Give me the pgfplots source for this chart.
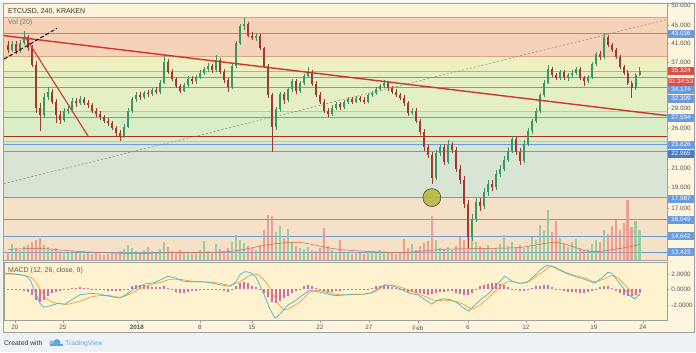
\documentclass[border=0pt]{standalone}
\usepackage{fontspec}
\setmainfont{Liberation Sans}
\usepackage{pgfplots}
\pgfplotsset{compat=1.18}
\usepackage{pgfplotstable}
\definecolor{chartbg}{HTML}{FDF5DE}
\definecolor{footerbg}{HTML}{EEF2F6}
\definecolor{bandtop}{HTML}{FDF3D8}
\definecolor{salmon}{HTML}{F6D2B8}
\definecolor{yband}{HTML}{EEF0C2}
\definecolor{ygreen}{HTML}{E5EFC4}
\definecolor{lgreen}{HTML}{D9EDC6}
\definecolor{ggreen}{HTML}{D8E4D4}
\definecolor{tanbg}{HTML}{F4E1C8}
\definecolor{blueline}{HTML}{6E9BD6}
\definecolor{bluebox}{HTML}{6A9BE0}
\definecolor{bluebox2}{HTML}{4C7BC4}
\definecolor{redbox}{HTML}{DC4F45}
\definecolor{redline}{HTML}{D0342C}
\definecolor{fibline}{HTML}{D8A57E}
\definecolor{greenline}{HTML}{A9D59E}
\definecolor{cup}{HTML}{3E9460}
\definecolor{cdown}{HTML}{9E3B2E}
\definecolor{volred}{HTML}{E8958A}
\definecolor{volgreen}{HTML}{8FC79A}
\definecolor{volma}{HTML}{D9603F}
\definecolor{macdblue}{HTML}{45B5CE}
\definecolor{signal}{HTML}{F0A03C}
\definecolor{hist}{HTML}{D46AA6}
\definecolor{macdbg}{HTML}{FFF2CF}
\definecolor{framegray}{HTML}{A0A0A0}
\definecolor{labgray}{HTML}{555555}
\definecolor{tvblue}{HTML}{5BA8DC}
\definecolor{circ}{HTML}{B5B53A}

\pgfplotstableread{
x o h l c v m
8 40.5 41.3 38.8 39.5 8 -0.1
12 39.5 41.3 39.1 40.8 16 -0.1
16 40.8 41.4 38.6 39.2 12 -0.05
20 39.2 41.6 38.9 41.0 10 -0.1
24 41.0 43.6 40.6 42.2 14 -0.15
28 42.2 42.8 39.2 39.8 15 -0.3
32 39.8 40.6 36.0 36.5 18 -0.7
36 36.5 37.2 28.2 29.0 20 -1.3
40 29.0 29.8 25.6 28.0 22 -1.6
44 28.0 31.4 27.6 30.8 15 -1.3
48 30.8 32.4 30.2 31.6 13 -0.9
52 31.6 32.0 29.6 30.0 11 -0.5
56 30.0 30.4 26.8 28.0 12 -0.3
60 28.0 28.5 26.6 27.2 9 -0.2
64 27.2 29.0 26.9 28.6 8 -0.1
68 28.6 29.4 28.1 28.9 7 0.1
72 28.9 30.6 28.6 30.1 9 0.2
76 30.1 30.5 29.2 29.7 7 0.25
80 29.7 30.9 29.4 30.4 8 0.3
84 30.4 30.7 29.4 29.8 6 0.25
88 29.8 30.2 29.0 29.4 7 0.2
92 29.4 29.7 28.2 28.6 6 0.1
96 28.6 29.0 27.7 28.1 8 0.05
100 28.1 28.5 27.2 27.6 6 -0.05
104 27.6 28.0 26.8 27.1 5 -0.1
108 27.1 27.5 26.3 26.7 6 -0.15
112 26.7 27.0 25.8 26.1 7 -0.2
116 26.1 26.4 25.0 25.4 8 -0.2
120 25.4 25.8 24.3 25.0 9 -0.2
124 25.0 26.6 24.7 26.2 11 -0.1
128 26.2 29.0 26.0 28.6 15 0.1
132 28.6 30.8 28.3 30.4 12 0.4
136 30.4 31.5 30.0 31.1 9 0.55
140 31.1 31.6 30.3 30.7 8 0.6
144 30.7 31.8 30.4 31.4 10 0.55
148 31.4 31.9 30.8 31.2 13 0.45
152 31.2 32.3 30.9 31.9 9 0.35
156 31.9 32.4 31.2 31.6 7 0.3
160 31.6 33.6 31.3 33.2 11 0.35
164 33.2 38.4 33.0 37.0 18 0.45
168 37.0 37.6 34.8 35.2 13 0.2
172 35.2 35.7 33.4 33.8 9 -0.1
176 33.8 34.2 32.2 32.6 8 -0.35
180 32.6 33.0 31.4 31.8 10 -0.45
184 31.8 33.2 31.5 32.8 8 -0.4
188 32.8 34.3 32.5 33.9 7 -0.3
192 33.9 34.4 32.9 33.4 6 -0.25
196 33.4 34.6 33.0 34.2 8 -0.15
200 34.2 35.4 33.9 35.0 10 -0.1
204 35.0 36.0 34.6 35.6 19 -0.05
208 35.6 36.8 35.2 36.3 9 0.05
212 36.3 36.7 35.0 35.4 8 -0.05
216 35.4 38.5 35.1 37.4 16 0.05
220 37.4 37.8 34.8 35.2 11 -0.1
224 35.2 35.6 33.2 33.6 9 -0.25
228 33.6 34.0 31.5 32.4 12 -0.3
232 32.4 36.6 32.1 36.2 18 -0.05
236 36.2 41.4 35.9 41.0 25 0.4
240 41.0 45.4 40.6 44.8 20 0.8
244 44.8 46.9 44.0 45.4 17 1.0
248 45.4 45.9 42.2 42.6 14 0.8
252 42.6 43.4 41.6 42.0 12 0.5
256 42.0 43.1 41.5 42.6 10 0.35
260 42.6 43.0 39.4 39.8 15 0.1
264 39.8 40.2 35.8 36.2 30 -0.4
268 36.2 36.6 30.6 31.0 46 -1.0
272 31.0 31.4 22.9 26.2 45 -1.6
276 26.2 29.2 25.8 28.8 28 -1.8
280 28.8 31.6 28.4 31.2 35 -1.5
284 31.2 31.6 29.6 30.2 22 -1.1
288 30.2 32.5 29.9 32.1 31 -0.8
292 32.1 33.9 31.6 33.5 18 -0.4
296 33.5 33.9 31.3 31.7 14 -0.2
300 31.7 33.5 31.4 33.1 12 0.1
304 33.1 34.8 32.8 34.4 11 0.4
308 34.4 36.0 34.1 35.0 13 0.6
312 35.0 35.4 32.6 33.0 10 0.5
316 33.0 33.4 30.7 31.1 9 0.2
320 31.1 31.5 29.6 30.0 12 -0.1
324 30.0 30.4 28.2 28.6 33 -0.3
328 28.6 29.0 27.7 28.1 14 -0.4
332 28.1 29.4 27.8 29.0 10 -0.35
336 29.0 30.0 28.7 29.6 8 -0.25
340 29.6 30.0 28.7 29.1 20 -0.15
344 29.1 30.3 28.8 29.9 9 -0.05
348 29.9 30.8 29.6 30.4 7 0.05
352 30.4 30.8 29.6 30.0 6 0.05
356 30.0 30.9 29.7 30.5 8 0.1
360 30.5 30.9 29.9 30.3 7 0.1
364 30.3 30.7 29.6 30.0 6 0.05
368 30.0 31.4 29.7 31.0 9 0.1
372 31.0 31.8 30.7 31.4 8 0.25
376 31.4 32.4 31.1 32.0 7 0.4
380 32.0 33.0 31.7 32.6 10 0.5
384 32.6 33.6 32.3 33.1 9 0.55
388 33.1 33.5 31.8 32.2 8 0.45
392 32.2 32.6 31.2 31.6 7 0.3
396 31.6 32.0 30.7 31.1 6 0.15
400 31.1 31.4 30.2 30.6 8 -0.05
404 30.6 31.0 29.3 29.7 21 -0.2
408 29.7 30.1 27.8 28.2 12 -0.35
412 28.2 29.0 27.9 28.6 16 -0.35
416 28.6 29.0 26.7 27.0 10 -0.4
420 27.0 27.4 25.1 25.5 14 -0.5
424 25.5 25.9 23.1 23.5 17 -0.6
428 23.5 23.9 22.2 22.6 19 -0.7
432 22.6 23.0 19.4 20.0 45 -0.6
436 20.0 23.2 19.8 22.8 20 -0.4
440 22.8 24.0 22.4 23.6 12 -0.3
444 23.6 24.0 21.4 21.8 11 -0.3
448 21.8 24.4 21.5 23.8 13 -0.2
452 23.8 24.2 22.8 23.2 10 -0.25
456 23.2 23.6 20.6 21.0 14 -0.4
460 21.0 21.4 19.4 19.8 23 -0.55
464 19.8 20.2 17.0 17.4 20 -0.7
468 17.4 17.8 13.8 14.6 28 -0.75
472 14.6 16.5 14.3 16.1 24 -0.4
476 16.1 18.0 15.8 17.6 18 0.1
480 17.6 18.0 16.8 17.2 14 0.4
484 17.2 18.9 16.9 18.5 12 0.6
488 18.5 19.8 18.2 19.4 15 0.75
492 19.4 19.8 18.6 19.0 10 0.8
496 19.0 20.8 18.7 20.4 12 0.8
500 20.4 21.4 20.1 21.0 16 0.75
504 21.0 22.4 20.7 22.0 25 0.6
508 22.0 23.5 21.7 23.1 14 0.35
512 23.1 25.0 22.8 24.6 18 0.1
516 24.6 25.0 22.6 23.0 13 -0.1
520 23.0 23.4 21.4 21.9 15 -0.25
524 21.9 24.4 21.6 24.0 12 -0.15
528 24.0 26.0 23.7 25.6 14 0.05
532 25.6 27.4 25.3 27.0 23 0.25
536 27.0 29.0 26.7 28.6 20 0.4
540 28.6 31.4 28.3 31.0 36 0.5
544 31.0 33.6 30.7 33.2 30 0.6
548 33.2 36.4 32.9 35.6 51 0.55
552 35.6 36.0 34.2 34.6 28 0.35
556 34.6 35.0 33.6 34.0 40 0.1
560 34.0 35.5 33.7 35.1 22 -0.1
564 35.1 35.5 33.7 34.1 16 -0.2
568 34.1 35.0 33.5 34.6 13 -0.3
572 34.6 35.4 34.2 35.0 18 -0.35
576 35.0 36.0 34.6 35.6 21 -0.35
580 35.6 36.0 33.6 34.0 12 -0.4
584 34.0 34.4 32.6 33.5 10 -0.4
588 33.5 34.5 33.1 34.1 11 -0.35
592 34.1 37.0 33.8 36.6 16 -0.2
596 36.6 39.0 36.3 38.6 20 0.1
600 38.6 39.2 37.5 38.0 18 0.3
604 38.0 43.3 37.7 42.4 30 0.5
608 42.4 42.8 40.2 40.6 26 0.45
612 40.6 41.0 39.0 39.4 35 0.2
616 39.4 39.8 37.6 38.0 41 -0.2
620 38.0 38.4 35.7 36.1 30 -0.5
624 36.1 36.5 34.6 35.0 38 -0.7
628 35.0 35.4 32.7 33.1 61 -0.85
632 33.1 33.5 30.6 32.2 34 -0.9
636 32.2 35.0 31.9 34.6 40 -0.75
640 34.6 36.0 34.3 35.3 30 -0.5
}\candles

\newcommand{\hlev}[2]{\addplot[#1, mark=none, forget plot] coordinates {(4,#2) (667,#2)};}
\newcommand{\pbox}[3]{\node[fill=#3, text=white, anchor=west, inner sep=0pt, minimum height=8pt, minimum width=26pt, font=\fontsize{6.3}{7}\selectfont] at (668pt,{(351-#1)*1pt}) {#2};}

\begin{document}
\begin{tikzpicture}
\fill[footerbg] (0pt,0pt) rectangle (696pt,351pt);
\fill[chartbg] (2pt,20pt) rectangle (695pt,350pt);

% ---------- price pane: backgrounds, levels, scale
\begin{axis}[at={(4pt,92pt)}, anchor=south west, scale only axis,
  width=663pt, height=257pt, xmin=4, xmax=667,
  ymode=log, ymin=12.88, ymax=50.53,
  xtick=\empty,
  ytick={50,45,41,37,29,26,21,19,17},
  yticklabels={50.000,45.000,41.000,37.000,29.000,26.000,21.000,19.000,17.000},
  ytick pos=right, yticklabel pos=right, tick align=outside,
  major tick length=2.5pt,
  axis line style={draw=framegray}, tick style={draw=framegray},
  yticklabel style={font=\fontsize{6.3}{7}\selectfont, text=labgray, xshift=-1.5pt}]
\addplot[fill=bandtop, draw=none, forget plot] coordinates {(4,50.53) (667,50.53) (667,46.91) (4,46.91)} -- cycle;
\addplot[fill=salmon, draw=none, forget plot] coordinates {(4,46.91) (667,46.91) (667,38.12) (4,38.12)} -- cycle;
\addplot[fill=yband, draw=none, forget plot] coordinates {(4,38.12) (667,38.12) (667,35.324) (4,35.324)} -- cycle;
\addplot[fill=ygreen, draw=none, forget plot] coordinates {(4,35.324) (667,35.324) (667,28.45) (4,28.45)} -- cycle;
\addplot[fill=lgreen, draw=none, forget plot] coordinates {(4,28.45) (667,28.45) (667,24.26) (4,24.26)} -- cycle;
\addplot[fill=ggreen, draw=none, forget plot] coordinates {(4,24.26) (667,24.26) (667,17.987) (4,17.987)} -- cycle;
\addplot[fill=tanbg, draw=none, forget plot] coordinates {(4,17.987) (667,17.987) (667,12.88) (4,12.88)} -- cycle;
\hlev{fibline, line width=0.6pt}{46.91}
\hlev{fibline, line width=0.6pt}{38.12}
\hlev{fibline, line width=0.6pt}{35.324}
\hlev{greenline, line width=0.6pt}{28.45}
\hlev{greenline, line width=0.6pt}{24.26}
\hlev{redline!85!black, line width=1.1pt}{24.9}
\hlev{blueline, line width=1.1pt}{43.036}
\hlev{blueline, line width=1.1pt}{34.174}
\hlev{blueline, line width=1.1pt}{32.309}
\hlev{blueline, line width=1.1pt}{27.594}
\hlev{blueline, line width=1.1pt}{23.826}
\hlev{blueline, line width=1.1pt}{22.965}
\hlev{blueline, line width=1.1pt}{17.987}
\hlev{blueline, line width=1.1pt}{16.049}
\hlev{blueline, line width=1.1pt}{14.642}
\hlev{blueline, line width=1.1pt}{13.423}
\end{axis}

% ---------- volume overlay
\begin{axis}[at={(4pt,92pt)}, anchor=south west, scale only axis,
  width=663pt, height=257pt, xmin=4, xmax=667, ymin=0, ymax=257, hide axis]
\addplot[ycomb, draw=volgreen, draw opacity=0.85, line width=2.6pt, mark=none,
  restrict expr to domain={\thisrow{c}-\thisrow{o}}{0:1000}]
  table[x=x, y=v] {\candles};
\addplot[ycomb, draw=volred, draw opacity=0.85, line width=2.6pt, mark=none,
  restrict expr to domain={\thisrow{o}-\thisrow{c}}{0.001:1000}]
  table[x=x, y=v] {\candles};
\addplot[volma, line width=0.5pt, smooth, mark=none] coordinates {
(8,11) (40,12) (80,9) (130,7) (180,8) (230,9) (270,16) (300,18) (340,11)
(400,8) (440,11) (480,12) (520,13) (557,18) (590,9) (620,12) (640,16)};
\end{axis}

% ---------- candles and drawings
\begin{axis}[at={(4pt,92pt)}, anchor=south west, scale only axis,
  width=663pt, height=257pt, xmin=4, xmax=667,
  ymode=log, ymin=12.88, ymax=50.53, hide axis]
\addplot[draw=none, mark=none,
  restrict expr to domain={\thisrow{c}-\thisrow{o}}{0:1000},
  error bars/.cd, y dir=plus, y explicit, error mark=none,
  error bar style={draw=cup, line width=0.6pt}]
  table[x=x, y=l, y error plus expr=\thisrow{h}-\thisrow{l}] {\candles};
\addplot[draw=none, mark=none,
  restrict expr to domain={\thisrow{c}-\thisrow{o}}{0:1000},
  error bars/.cd, y dir=plus, y explicit, error mark=none,
  error bar style={draw=cup, line width=2.4pt}]
  table[x=x, y=o, y error plus expr=\thisrow{c}-\thisrow{o}] {\candles};
\addplot[draw=none, mark=none,
  restrict expr to domain={\thisrow{o}-\thisrow{c}}{0.001:1000},
  error bars/.cd, y dir=plus, y explicit, error mark=none,
  error bar style={draw=cdown, line width=0.6pt}]
  table[x=x, y=l, y error plus expr=\thisrow{h}-\thisrow{l}] {\candles};
\addplot[draw=none, mark=none,
  restrict expr to domain={\thisrow{o}-\thisrow{c}}{0.001:1000},
  error bars/.cd, y dir=plus, y explicit, error mark=none,
  error bar style={draw=cdown, line width=2.4pt}]
  table[x=x, y=c, y error plus expr=\thisrow{o}-\thisrow{c}] {\candles};
\addplot[redline, line width=1.4pt, mark=none] coordinates {(4,42.6) (667,27.85)};
\addplot[redline, line width=1.1pt, mark=none] coordinates {(25,42.4) (88,25.0)};
\addplot[black, line width=0.9pt, dash pattern=on 4pt off 2pt, mark=none] coordinates {(4,37.6) (57,44.3)};
\addplot[gray, line width=0.5pt, dash pattern=on 2pt off 2pt, mark=none] coordinates {(4,19.4) (667,46.4)};
\addplot[only marks, mark=*, mark size=9pt, mark options={fill=circ, draw=none, opacity=0.85}] coordinates {(432,18.0)};
\end{axis}

% ---------- MACD pane
\begin{axis}[at={(4pt,32pt)}, anchor=south west, scale only axis,
  width=663pt, height=58pt, xmin=4, xmax=667, ymin=-4, ymax=3.48,
  axis background/.style={fill=macdbg},
  ytick={-2,0,2}, yticklabels={-2.0000,0.0000,2.0000},
  ytick pos=right, yticklabel pos=right,
  xtick={15,63,137,200,252,320,369,418,468,526,594,643},
  xticklabels={20,25,\textbf{2018},8,15,22,27,Feb,6,12,19,24},
  xtick pos=bottom, tick align=outside, major tick length=2.5pt,
  axis line style={draw=framegray}, tick style={draw=framegray},
  yticklabel style={font=\fontsize{6.3}{7}\selectfont, text=labgray, xshift=-1.5pt},
  xticklabel style={font=\fontsize{6.3}{7}\selectfont, text=labgray, yshift=1pt}]
\addplot[ycomb, draw=hist, line width=2.2pt, mark=none] table[x=x, y=m] {\candles};
\addplot[signal, line width=0.7pt, smooth, mark=none] coordinates {
(5,2.0) (15,1.95) (25,1.8) (32,1.5) (38,0.5) (44,-0.8) (50,-1.5) (58,-1.8) (68,-1.9)
(80,-1.5) (90,-1.0) (100,-0.8) (110,-0.8) (120,-1.0) (130,-0.6) (140,0.1) (150,0.6)
(160,0.9) (170,1.3) (180,1.3) (190,1.1) (200,1.0) (210,0.95) (220,0.8) (230,0.55)
(240,1.0) (248,1.7) (255,2.0) (260,1.7) (268,0.6) (276,-1.3) (283,-2.6) (290,-2.4)
(300,-1.6) (310,-0.4) (318,-0.1) (325,-0.3) (335,-0.6) (345,-0.7) (355,-0.65)
(365,-0.6) (375,-0.3) (385,0.5) (395,0.5) (405,0.1) (415,-0.4) (425,-0.9) (435,-1.4)
(445,-1.4) (455,-1.5) (465,-2.0) (472,-2.5) (480,-2.0) (490,-0.9) (500,0.3) (508,1.0)
(515,0.95) (522,0.8) (530,1.1) (540,2.0) (551,3.0) (558,2.7) (566,2.2) (575,1.8)
(585,1.5) (595,1.0) (605,1.4) (612,1.8) (618,1.5) (625,0.6) (633,-0.5) (640,-0.8)};
\addplot[macdblue, line width=0.7pt, mark=none] coordinates {
(5,2.1) (15,2.0) (25,1.8) (30,1.3) (35,-0.3) (40,-1.8) (44,-2.3) (50,-2.1) (58,-1.8)
(65,-1.9) (72,-1.3) (80,-0.7) (90,-0.5) (100,-0.6) (110,-0.9) (120,-1.1) (128,-0.5)
(135,0.2) (145,0.7) (155,0.9) (163,1.4) (168,1.7) (175,1.5) (182,1.1) (190,1.0)
(200,1.0) (210,0.9) (220,0.6) (230,0.4) (236,1.0) (240,1.9) (245,2.3) (250,2.2)
(256,1.6) (263,-0.3) (270,-2.5) (275,-3.7) (280,-3.2) (288,-2.0) (295,-1.5)
(303,-0.7) (310,-0.1) (318,-0.3) (325,-0.5) (335,-0.8) (345,-0.7) (355,-0.6)
(365,-0.6) (372,-0.4) (380,0.3) (385,0.6) (392,0.5) (400,0.1) (410,-0.5) (418,-0.7)
(425,-1.3) (432,-1.9) (438,-1.4) (443,-1.2) (450,-1.3) (457,-1.7) (464,-2.4)
(469,-2.8) (475,-2.0) (482,-1.2) (490,-0.4) (497,0.6) (505,1.7) (512,1.1) (519,0.8)
(527,0.9) (535,1.8) (541,2.6) (547,3.1) (552,3.0) (558,2.6) (566,2.1) (575,1.7)
(585,1.3) (595,0.8) (602,1.5) (608,2.2) (612,2.1) (618,1.1) (624,0.1) (630,-0.8)
(635,-1.2) (640,-0.6)};
\end{axis}

% ---------- frame and texts
\draw[framegray, line width=0.6pt] (3pt,20pt) rectangle (694.5pt,349.5pt);
\node[anchor=west, inner sep=0pt, font=\fontsize{7}{8}\selectfont, text=black!80] at (8pt,341pt) {ETCUSD, 240, KRAKEN};
\node[anchor=west, inner sep=0pt, font=\fontsize{7}{8}\selectfont, text=black!55] at (8pt,330pt) {Vol (20)};
\node[anchor=west, inner sep=0pt, font=\fontsize{7}{8}\selectfont, text=black!65] at (8pt,82pt) {MACD (12, 26, close, 9)};

\pbox{32}{43.036}{bluebox}
\pbox{69}{35.324}{redbox}
\pbox{80}{01:34:53}{redbox}
\pbox{88}{34.174}{bluebox}
\pbox{97}{32.309}{bluebox}
\pbox{116}{27.594}{bluebox}
\pbox{143}{23.826}{bluebox}
\pbox{152}{22.965}{bluebox2}
\pbox{197}{17.987}{bluebox}
\pbox{218}{16.049}{bluebox}
\pbox{235}{14.642}{bluebox}
\pbox{251}{13.423}{bluebox}

% footer
\node[anchor=west, inner sep=0pt, font=\fontsize{6.8}{8}\selectfont, text=black!80] at (4pt,9pt) {Created with};
\fill[tvblue!70] (52pt,9.5pt) circle (2.6pt);
\fill[tvblue] (57pt,10pt) circle (3.4pt);
\fill[tvblue] (50pt,6.5pt) rectangle (63pt,8.5pt);
\node[anchor=west, inner sep=0pt, font=\fontsize{6.8}{8}\selectfont, text=tvblue] at (65pt,9pt) {TradingView};
\end{tikzpicture}
\end{document}
